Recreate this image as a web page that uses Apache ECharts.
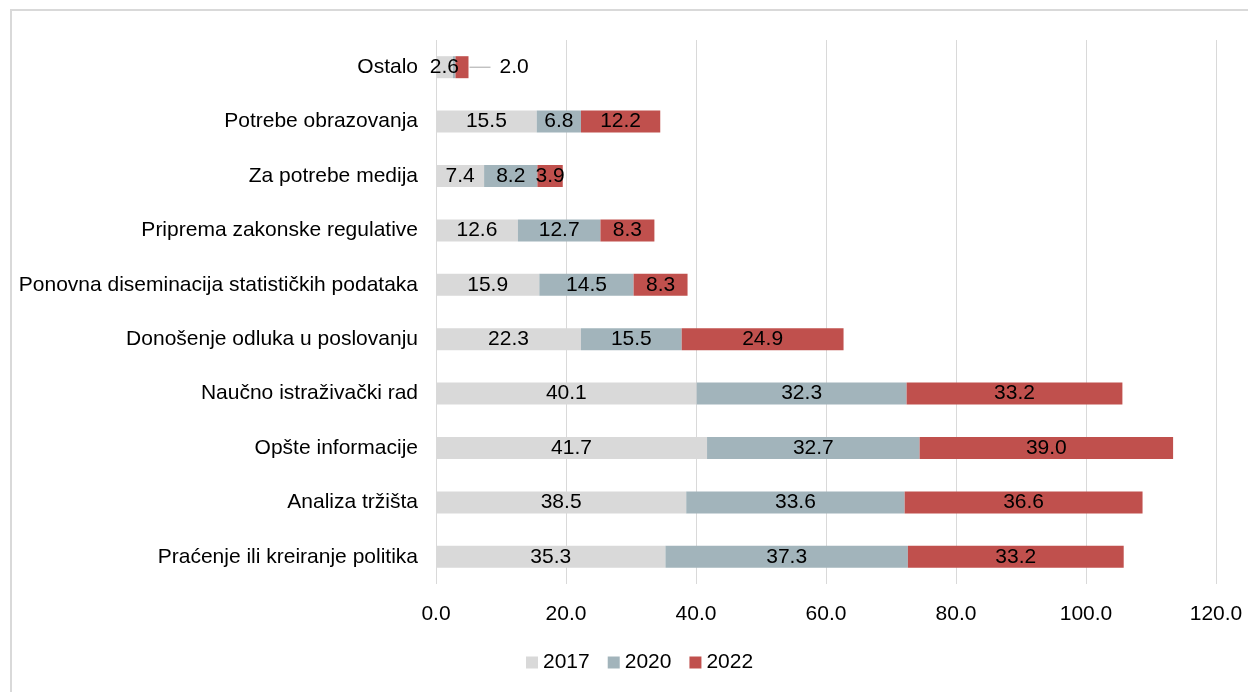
<!DOCTYPE html>
<html>
<head>
<meta charset="utf-8">
<script src="https://cdn.jsdelivr.net/npm/echarts@6/dist/echarts.min.js"></script>
<style>
  html, body { margin: 0; padding: 0; background: #fff; overflow: hidden; }
  #frame { position: absolute; left: 10px; top: 9px; width: 1238px; height: 683px; border-left: 2px solid #d9d9d9; border-top: 2px solid #d9d9d9; box-sizing: border-box; }
  #charts { position: absolute; left: 0; top: 0; width: 1248px; height: 692px; }
</style>
</head>
<body>
<div id="frame"></div>
<div id="charts"></div>
<script>
// categories top to bottom
const categories = [
  'Ostalo',
  'Potrebe obrazovanja',
  'Za potrebe medija',
  'Priprema zakonske regulative',
  'Ponovna diseminacija statističkih podataka',
  'Donošenje odluka u poslovanju',
  'Naučno istraživački rad',
  'Opšte informacije',
  'Analiza tržišta',
  'Praćenje ili kreiranje politika'
];
const years = ['2017', '2020', '2022'];
const values2017 = [2.6, 15.5, 7.4, 12.6, 15.9, 22.3, 40.1, 41.7, 38.5, 35.3];
const values2020 = [0.4, 6.8, 8.2, 12.7, 14.5, 15.5, 32.3, 32.7, 33.6, 37.3];
const values2022 = [2.0, 12.2, 3.9, 8.3, 8.3, 24.9, 33.2, 39.0, 36.6, 33.2];
const colors = ['#d9d9d9', '#a2b4bb', '#c0504d'];

const myChart = echarts.init(document.getElementById('charts'));
const font = 'Liberation Sans, Arial, sans-serif';
const fs = 21;

function makeSeries(name, data, color, idx) {
  return {
    name: name,
    type: 'bar',
    stack: 'total',
    barWidth: 22,
    itemStyle: { color: color },
    label: {
      show: true,
      position: 'inside',
      color: '#000',
      fontSize: fs,
      fontFamily: font,
      formatter: p => (idx === 1 && p.dataIndex === 0) ? '' : p.value.toFixed(1)
    },
    data: data.map((v, i) => {
      if (i === 0 && idx === 2) {
        // small slice: label pulled out to the right with a leader line
        return {
          value: v,
          label: {
            position: 'right',
            distance: 1,
            formatter: p => '{ln|}{v|' + p.value.toFixed(1) + '}',
            rich: {
              ln: { width: 21, height: 1, backgroundColor: '#a6a6a6' },
              v: { fontSize: fs, fontFamily: font, color: '#000', padding: [0, 0, 0, 9] }
            }
          }
        };
      }
      return v;
    })
  };
}

const option = {
  animation: false,
  color: colors,
  grid: { left: 436, right: 32, top: 40, bottom: 108 },
  legend: {
    bottom: 14,
    left: 521,
    itemWidth: 12,
    itemHeight: 12,
    itemGap: 18,
    icon: 'rect',
    textStyle: { fontSize: fs, fontFamily: font, color: '#000' },
    data: years
  },
  xAxis: {
    type: 'value',
    min: 0,
    max: 120,
    interval: 20,
    axisLine: { show: false },
    axisTick: { show: false },
    splitLine: { lineStyle: { color: '#d9d9d9', width: 1 } },
    axisLabel: {
      formatter: v => v.toFixed(1),
      fontSize: fs,
      fontFamily: font,
      color: '#000',
      margin: 20
    }
  },
  yAxis: {
    type: 'category',
    inverse: true,
    data: categories,
    axisLine: { show: false },
    axisTick: { show: false },
    axisLabel: { fontSize: fs, fontFamily: font, color: '#000', margin: 18 }
  },
  series: [
    makeSeries(years[0], values2017, colors[0], 0),
    makeSeries(years[1], values2020, colors[1], 1),
    makeSeries(years[2], values2022, colors[2], 2)
  ]
};

myChart.setOption(option);
</script>
</body>
</html>
